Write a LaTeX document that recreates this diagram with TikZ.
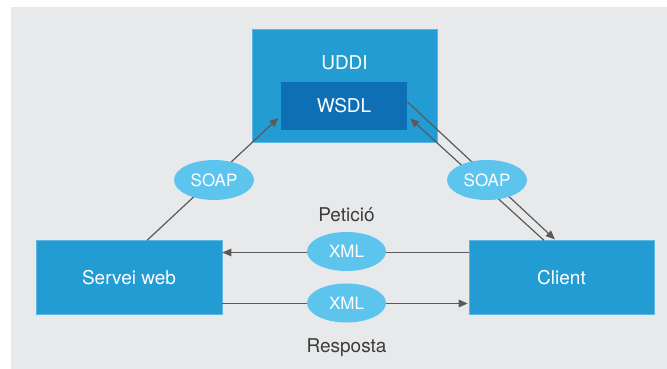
\documentclass[tikz,border=0pt]{standalone}
\usepackage{fontspec}
\setmainfont{TeX Gyre Heros}
\usetikzlibrary{arrows.meta,shapes.geometric}
\definecolor{bggray}{HTML}{E8E9EB}
\definecolor{boxblue}{HTML}{239CD3}
\definecolor{boxedge}{HTML}{5DB6E2}
\definecolor{darkblue}{HTML}{0F6FB4}
\definecolor{lightblue}{HTML}{5DC4EE}
\definecolor{arrowgray}{HTML}{5A5A5A}
\definecolor{labelgray}{HTML}{3C3C3C}
\tikzset{
  bigbox/.style={rectangle, fill=boxblue, draw=boxedge, line width=0.6pt, inner sep=0pt},
  innerbox/.style={rectangle, fill=darkblue, inner sep=0pt, text=white, font=\fontsize{19}{22}\selectfont},
  boxtext/.style={text=white, font=\fontsize{19}{22}\selectfont, inner sep=0pt},
  bubble/.style={ellipse, fill=lightblue, inner sep=0pt, minimum width=80pt, minimum height=40pt, text=white, font=\fontsize{17}{20}\selectfont},
  flow/.style={draw=arrowgray, line width=1.2pt, -{Triangle[length=9pt,width=7.5pt]}},
  plainflow/.style={draw=arrowgray, line width=1.2pt},
  caption/.style={text=labelgray, font=\fontsize{19}{22}\selectfont, inner sep=0pt}
}
\begin{document}
\begin{tikzpicture}[x=1pt,y=-1pt]
\useasboundingbox (0,0) rectangle (667,369);
\fill[bggray] (11,7) rectangle (667,369);

% boxes
\node[bigbox, minimum width=185pt, minimum height=113pt] (uddi) at (344.5,85.5) {};
\node[boxtext] (uddilabel) at (344.5,63) {UDDI};
\node[innerbox, minimum width=126.6pt, minimum height=48.3pt] (wsdl) at (344,105.9) {WSDL};
\node[bigbox, boxtext, minimum width=186pt, minimum height=73.6pt] (servei) at (129,277.5) {Servei web};
\node[bigbox, boxtext, minimum width=185pt, minimum height=73.6pt] (client) at (561.5,277.5) {Client};

% connectors
\draw[flow] ([xshift=18pt]servei.north) -- ([xshift=-2pt,yshift=-12pt]wsdl.west);
\draw[flow, shorten >=1.5pt] ([yshift=4pt]wsdl.east) -- ([xshift=-5.5pt]client.north);
\draw[flow] ([xshift=-17.5pt]client.north) -- ([xshift=2.7pt,yshift=-12.5pt]wsdl.east);
\draw[flow] ([yshift=25pt]client.west) -- ([yshift=25pt]servei.east);
\draw[flow, shorten >=1pt] ([yshift=-26pt]servei.east) -- ([yshift=-26pt]client.west);

% bubbles
\node[bubble] (soapl) at (214,180) {SOAP};
\node[bubble] (soapr) at (487,180) {SOAP};
\node[bubble, minimum width=79pt, minimum height=39pt] (xmlu) at (346.5,251.5) {XML};
\node[bubble, minimum width=79pt, minimum height=39pt] (xmld) at (346.5,303) {XML};

% captions
\node[caption] (peticio) at (346.5,215) {Petició};
\node[caption] (resposta) at (346.5,348) {Resposta};
\end{tikzpicture}
\end{document}
